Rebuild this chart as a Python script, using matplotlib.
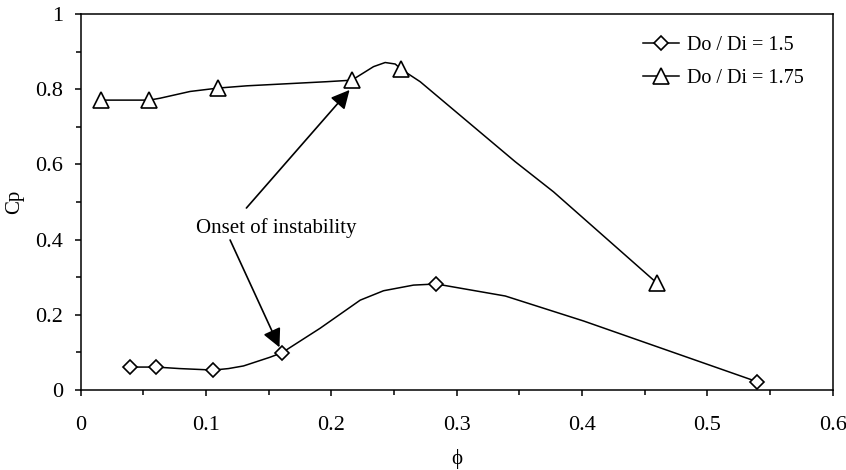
import matplotlib
matplotlib.use("Agg")
import matplotlib.pyplot as plt
from matplotlib.ticker import MultipleLocator, FixedLocator

plt.rcParams['font.family'] = ['Liberation Serif', 'DejaVu Serif']

# Marker points
d_x = [0.0395, 0.0603, 0.106, 0.1606, 0.2837, 0.5397]
d_y = [0.061, 0.061, 0.053, 0.099, 0.282, 0.022]
t_x = [0.0161, 0.0549, 0.1097, 0.2164, 0.2558, 0.4599]
t_y = [0.771, 0.771, 0.803, 0.824, 0.853, 0.284]

# Curve vertices
d_curve_x = [0.0395, 0.0603, 0.079, 0.106, 0.118, 0.130, 0.151, 0.1606, 0.191,
             0.2231, 0.2417, 0.2656, 0.2837, 0.3388, 0.4013, 0.5397]
d_curve_y = [0.061, 0.061, 0.057, 0.053, 0.057, 0.064, 0.087, 0.099, 0.164,
             0.239, 0.264, 0.279, 0.282, 0.250, 0.1835, 0.022]
t_curve_x = [0.0161, 0.0549, 0.0634, 0.0874, 0.1097, 0.1326, 0.1965, 0.2164,
             0.2337, 0.2430, 0.2510, 0.2558, 0.2709, 0.3468, 0.3773, 0.4599]
t_curve_y = [0.771, 0.771, 0.776, 0.794, 0.803, 0.809, 0.820, 0.824,
             0.860, 0.871, 0.867, 0.853, 0.820, 0.607, 0.527, 0.284]

labels = ['Do / Di = 1.5', 'Do / Di = 1.75']
x_ticks = [0, 0.1, 0.2, 0.3, 0.4, 0.5, 0.6]
x_ticklabels = ['0', '0.1', '0.2', '0.3', '0.4', '0.5', '0.6']
y_ticks = [0, 0.2, 0.4, 0.6, 0.8, 1.0]
y_ticklabels = ['0', '0.2', '0.4', '0.6', '0.8', '1']
annotation_text = 'Onset of instability'

fig = plt.figure(figsize=(8.46, 4.70), dpi=100)
ax = fig.add_axes([0.0952, 0.1702, 0.9843 - 0.0952, 0.9702 - 0.1702])

lw = 1.1
ax.plot(d_curve_x, d_curve_y, color='black', lw=lw, zorder=2)
ax.plot(t_curve_x, t_curve_y, color='black', lw=lw, zorder=2)
ax.plot(d_x, d_y, linestyle='none', marker='D', ms=7.5, mfc='white',
        mec='black', mew=1.2, zorder=3)
ax.plot(t_x, t_y, linestyle='none', marker='^', ms=11, mfc='white',
        mec='black', mew=1.2, zorder=3)

# legend proxies
h1, = ax.plot([], [], color='black', lw=lw, marker='D', ms=7.5, mfc='white',
              mec='black', mew=1.2)
h2, = ax.plot([], [], color='black', lw=lw, marker='^', ms=11, mfc='white',
              mec='black', mew=1.2)
leg = ax.legend([h1, h2], labels, loc='upper left',
                bbox_to_anchor=(643 / 846, 1 - 36 / 470),
                bbox_transform=fig.transFigure, frameon=False,
                fontsize=14.5, borderpad=0, borderaxespad=0,
                handlelength=1.8, handletextpad=0.4, labelspacing=0.68)

ax.set_xlim(0, 0.6)
ax.set_ylim(0, 1)
ax.xaxis.set_major_locator(FixedLocator(x_ticks))
ax.set_xticklabels(x_ticklabels)
ax.yaxis.set_major_locator(FixedLocator(y_ticks))
ax.set_yticklabels(y_ticklabels)
ax.xaxis.set_minor_locator(MultipleLocator(0.05))
ax.yaxis.set_minor_locator(MultipleLocator(0.1))
ax.tick_params(which='major', direction='out', length=4.5, width=1.1,
               labelsize=16, top=False, right=False)
ax.tick_params(axis='x', which='major', pad=14)
ax.tick_params(axis='y', which='major', pad=8)
ax.tick_params(which='minor', direction='out', length=3.5, width=1.1,
               top=False, right=False)
for s in ax.spines.values():
    s.set_linewidth(1.1)

ax.set_xlabel('ϕ', fontsize=15, va='center')
ax.xaxis.set_label_coords(0.5, (390 - 459) / 376)
ax.set_ylabel('Cp', fontsize=15, va='center', ha='center')
ax.yaxis.set_label_coords((15 - 80.5) / 752, 0.5)

ax.text(0.156, 0.431, annotation_text, fontsize=15, ha='center', va='center')
ax.annotate('', xy=(0.2146, 0.798), xytext=(0.1323, 0.484),
            arrowprops=dict(arrowstyle='-|>', color='black', lw=1.2,
                            mutation_scale=28, shrinkA=0, shrinkB=0))
ax.annotate('', xy=(0.1587, 0.1135), xytext=(0.1193, 0.399),
            arrowprops=dict(arrowstyle='-|>', color='black', lw=1.2,
                            mutation_scale=28, shrinkA=0, shrinkB=0))

fig.savefig('out.png', dpi=100)
